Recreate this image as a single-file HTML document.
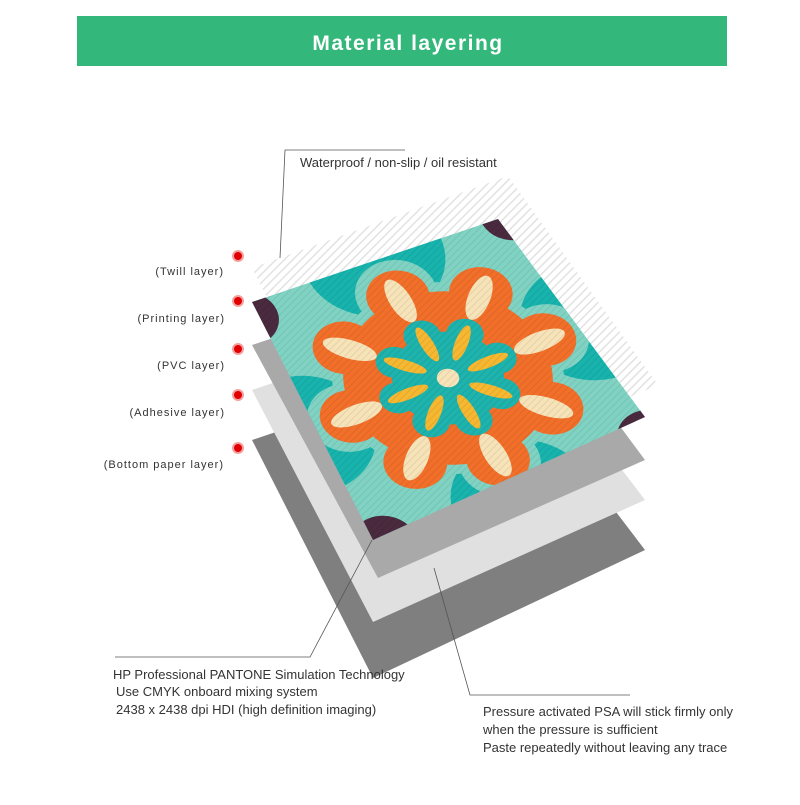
<!DOCTYPE html>
<html><head><meta charset="utf-8"><style>
body{margin:0;background:#fff;width:800px;height:800px;overflow:hidden;font-family:"Liberation Sans",sans-serif;}
</style></head><body>
<svg width="800" height="800" viewBox="0 0 800 800" xmlns="http://www.w3.org/2000/svg" font-family="Liberation Sans, sans-serif">
<defs>
<pattern id="hatch" width="6" height="6" patternUnits="userSpaceOnUse" patternTransform="rotate(-45)">
<rect width="6" height="6" fill="#fff"/><rect width="6" height="1.5" fill="#e2e2e2"/>
</pattern>
<pattern id="hatch2" width="5" height="5" patternUnits="userSpaceOnUse" patternTransform="rotate(-45)">
<rect width="5" height="1" fill="#000" opacity="0.08"/>
</pattern>
<clipPath id="tileclip"><polygon points="252,302 498,219 645,417 373,540"/></clipPath>
</defs>
<rect x="77" y="16" width="650" height="50" fill="#34b77a"/>
<text x="408" y="50" text-anchor="middle" fill="#fff" font-size="21" font-weight="bold" letter-spacing="1.5">Material layering</text>

<polygon points="252,440 498,357 645,550 373,678" fill="#7f7f7f"/>
<polygon points="252,390 498,307 645,500 373,622" fill="#e0e0e0"/>
<polygon points="252,345 498,262 645,460 378,578" fill="#a9a9a9"/>
<polygon points="252,268 508,176 658,385 373,505" fill="url(#hatch)"/>

<g clip-path="url(#tileclip)">
<g transform="matrix(1.33,-0.53,0.69,1.12,448,378)">
<rect x="-120" y="-120" width="240" height="240" fill="#80d3c3"/>
<g fill="#18b3ad">
<circle cx="0" cy="-108" r="48"/><circle cx="108" cy="0" r="48"/><circle cx="0" cy="108" r="48"/><circle cx="-108" cy="0" r="48"/>
</g>
<g fill="#4a2a3e">
<circle cx="-100" cy="-100" r="22"/><circle cx="100" cy="-100" r="22"/><circle cx="100" cy="100" r="22"/><circle cx="-100" cy="100" r="22"/>
</g>
<g transform="scale(1.25)">
<g fill="#80d3c3">
<circle r="62"/>
<g id="lob"><circle cx="0" cy="-60" r="22"/><circle cx="0" cy="60" r="22"/><circle cx="-60" cy="0" r="22"/><circle cx="60" cy="0" r="22"/></g>
<use href="#lob" transform="rotate(45)"/>
</g>
<g fill="#f26f2a">
<circle r="56"/>
<g id="lob2"><circle cx="0" cy="-58" r="17"/><circle cx="0" cy="58" r="17"/><circle cx="-58" cy="0" r="17"/><circle cx="58" cy="0" r="17"/></g>
<use href="#lob2" transform="rotate(45)"/>
</g>
<g fill="#1eb3ad">
<circle r="30"/>
<g id="lob3"><circle cx="0" cy="-30" r="10"/><circle cx="0" cy="30" r="10"/><circle cx="-30" cy="0" r="10"/><circle cx="30" cy="0" r="10"/></g>
<use href="#lob3" transform="rotate(45)"/>
</g>
<g fill="#f7e3b8" id="pet">
<ellipse cx="0" cy="-55" rx="6" ry="15"/><ellipse cx="0" cy="55" rx="6" ry="15"/><ellipse cx="-55" cy="0" rx="15" ry="6"/><ellipse cx="55" cy="0" rx="15" ry="6"/>
</g>
<use href="#pet" transform="rotate(45)"/>
<g fill="#f6b731" id="yp">
<ellipse cx="0" cy="-24" rx="3.5" ry="12"/><ellipse cx="0" cy="24" rx="3.5" ry="12"/><ellipse cx="-24" cy="0" rx="12" ry="3.5"/><ellipse cx="24" cy="0" rx="12" ry="3.5"/>
</g>
<use href="#yp" transform="rotate(45)"/>
<circle r="6" fill="#f7e3b8"/>
</g>
</g>
<polygon points="252,302 498,219 645,417 373,540" fill="url(#hatch2)"/>
</g>

<g stroke="#555" stroke-width="0.8" fill="none">
<polyline points="280,258 285,150 405,150"/>
<polyline points="115,657 310,657 372,540"/>
<polyline points="434,568 470,695 630,695"/>
</g>

<g>
<circle cx="238" cy="256" r="6" fill="#f5a0a0"/><circle cx="238" cy="256" r="4" fill="#e00000"/>
<circle cx="238" cy="301" r="6" fill="#f5a0a0"/><circle cx="238" cy="301" r="4" fill="#e00000"/>
<circle cx="238" cy="349" r="6" fill="#f5a0a0"/><circle cx="238" cy="349" r="4" fill="#e00000"/>
<circle cx="238" cy="395" r="6" fill="#f5a0a0"/><circle cx="238" cy="395" r="4" fill="#e00000"/>
<circle cx="238" cy="448" r="6" fill="#f5a0a0"/><circle cx="238" cy="448" r="4" fill="#e00000"/>
</g>
<g font-size="11" fill="#333" text-anchor="end" letter-spacing="1">
<text x="224" y="275">(Twill layer)</text>
<text x="225" y="322">(Printing layer)</text>
<text x="225" y="369">(PVC layer)</text>
<text x="225" y="416">(Adhesive layer)</text>
<text x="224" y="468">(Bottom paper  layer)</text>
</g>
<g font-size="13" fill="#333">
<text x="300" y="167">Waterproof / non-slip / oil resistant</text>
<text x="113" y="679">HP Professional PANTONE Simulation Technology</text>
<text x="116" y="696">Use CMYK onboard mixing system</text>
<text x="116" y="714">2438 x 2438 dpi HDI (high definition imaging)</text>
<text x="483" y="716">Pressure activated PSA will stick firmly only</text>
<text x="483" y="734">when the pressure is sufficient</text>
<text x="483" y="752">Paste repeatedly without leaving any trace</text>
</g>
</svg>
</body></html>
